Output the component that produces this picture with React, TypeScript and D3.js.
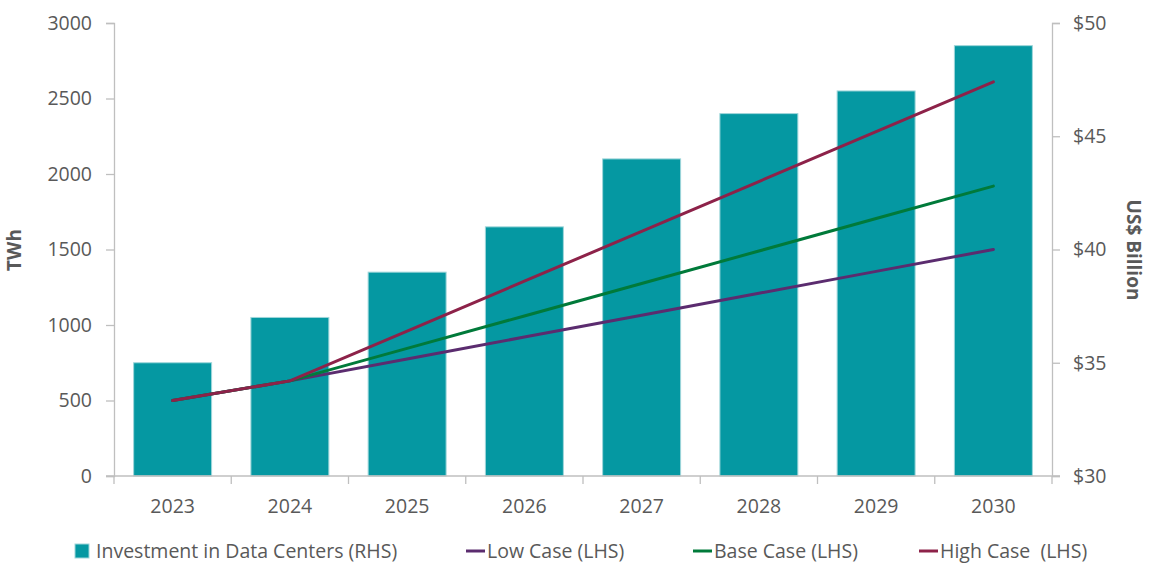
import { useEffect, useRef } from "react";
import * as d3 from "d3";

const years = ["2023", "2024", "2025", "2026", "2027", "2028", "2029", "2030"];
const investment = [35, 37, 39, 41, 44, 46, 47, 49];
const lowCase = [500, 630, 775, 920, 1065, 1210, 1355, 1500];
const baseCase = [500, 630, 845, 1060, 1275, 1490, 1705, 1920];
const highCase = [500, 630, 960, 1290, 1620, 1950, 2280, 2610];
const leftTicks = [0, 500, 1000, 1500, 2000, 2500, 3000];
const rightTicks = [30, 35, 40, 45, 50];

const lineSeries = [
  { name: "Low Case (LHS)", values: lowCase, color: "#5b2c6f" },
  { name: "Base Case (LHS)", values: baseCase, color: "#007a3a" },
  { name: "High Case  (LHS)", values: highCase, color: "#8d2249" },
];

const W = 1152;
const H = 577;
const font = "'Open Sans', 'Noto Sans', sans-serif";
const fontSize = "19.5px";
const textColor = "#595959";
const axisColor = "#bfbfbf";
const teal = "#0598a2";

const App = () => {
  const svgRef = useRef<SVGSVGElement | null>(null);

  useEffect(() => {
    if (!svgRef.current) return;
    const svg = d3.select(svgRef.current);
    svg.selectAll("*").remove();

    const margin = { left: 114, right: 100, top: 23, bottom: 101 };
    const plotBottom = H - margin.bottom;
    const plotRight = W - margin.right;

    const x = d3
      .scaleBand()
      .domain(years)
      .range([margin.left, plotRight])
      .paddingInner(0.335)
      .paddingOuter(0.1675);
    const yL = d3.scaleLinear().domain([0, 3000]).range([plotBottom, margin.top]);
    const yR = d3.scaleLinear().domain([30, 50]).range([plotBottom, margin.top]);

    // bars
    svg
      .append("g")
      .selectAll("rect")
      .data(years)
      .enter()
      .append("rect")
      .attr("x", (d) => x(d) as number)
      .attr("y", (_d, i) => yR(investment[i]))
      .attr("width", x.bandwidth())
      .attr("height", (_d, i) => plotBottom - yR(investment[i]))
      .attr("fill", teal)
      .attr("stroke", "#9fd6da")
      .attr("stroke-width", 1);

    // axes
    const leftAxis = d3
      .axisLeft(yL)
      .tickValues(leftTicks)
      .tickSize(8)
      .tickSizeOuter(8)
      .tickPadding(14)
      .tickFormat(d3.format("d"));
    const gl = svg
      .append("g")
      .attr("transform", `translate(${margin.left},0)`)
      .call(leftAxis);

    const rightAxis = d3
      .axisRight(yR)
      .tickValues(rightTicks)
      .tickSize(8)
      .tickSizeOuter(8)
      .tickPadding(13)
      .tickFormat((d) => `$${d}`);
    const gr = svg
      .append("g")
      .attr("transform", `translate(${plotRight},0)`)
      .call(rightAxis);

    const bottomAxis = d3.axisBottom(x).tickSize(0).tickPadding(23);
    const gb = svg
      .append("g")
      .attr("transform", `translate(0,${plotBottom})`)
      .call(bottomAxis);
    gb.select(".domain").remove();

    svg
      .append("line")
      .attr("x1", margin.left - 8)
      .attr("x2", plotRight + 8)
      .attr("y1", plotBottom)
      .attr("y2", plotBottom)
      .attr("stroke", axisColor)
      .attr("stroke-width", 1.3);

    const step = x.step();
    svg
      .append("g")
      .selectAll("line")
      .data(d3.range(years.length + 1))
      .enter()
      .append("line")
      .attr("x1", (i) => margin.left + i * step)
      .attr("x2", (i) => margin.left + i * step)
      .attr("y1", plotBottom)
      .attr("y2", plotBottom + 8)
      .attr("stroke", axisColor)
      .attr("stroke-width", 1.3);

    [gl, gr, gb].forEach((g) => {
      g.selectAll(".domain, .tick line")
        .attr("stroke", axisColor)
        .attr("stroke-width", 1.3);
      g.selectAll("text")
        .attr("fill", textColor)
        .attr("font-family", font)
        .attr("font-size", fontSize);
    });

    // lines
    lineSeries.forEach((s) => {
      const line = d3
        .line<number>()
        .x((_d, i) => (x(years[i]) as number) + x.bandwidth() / 2)
        .y((d) => yL(d));
      svg
        .append("path")
        .datum(s.values)
        .attr("d", line)
        .attr("fill", "none")
        .attr("stroke", s.color)
        .attr("stroke-width", 3)
        .attr("stroke-linecap", "round");
    });

    // axis titles
    svg
      .append("text")
      .attr("transform", `translate(21,250) rotate(-90)`)
      .attr("text-anchor", "middle")
      .attr("fill", textColor)
      .attr("font-family", font)
      .attr("font-size", "19px")
      .attr("font-weight", "bold")
      .text("TWh");
    svg
      .append("text")
      .attr("transform", `translate(1127,250) rotate(90)`)
      .attr("text-anchor", "middle")
      .attr("fill", textColor)
      .attr("font-family", font)
      .attr("font-size", "19px")
      .attr("font-weight", "bold")
      .text("US$ Billion");

    // legend
    const legendY = 551;
    const lg = svg.append("g");
    lg.append("rect")
      .attr("x", 75)
      .attr("y", legendY - 7)
      .attr("width", 14)
      .attr("height", 14)
      .attr("fill", teal)
      .attr("stroke", "#9fd6da");
    lg.append("text")
      .attr("x", 96)
      .attr("y", legendY)
      .attr("dy", "0.35em")
      .attr("fill", textColor)
      .attr("font-family", font)
      .attr("font-size", fontSize)
      .text("Investment in Data Centers (RHS)");

    const legendX = [466, 693, 919];
    lineSeries.forEach((s, i) => {
      lg.append("line")
        .attr("x1", legendX[i])
        .attr("x2", legendX[i] + 19)
        .attr("y1", legendY)
        .attr("y2", legendY)
        .attr("stroke", s.color)
        .attr("stroke-width", 3);
      lg.append("text")
        .attr("x", legendX[i] + 21)
        .attr("y", legendY)
        .attr("dy", "0.35em")
        .attr("fill", textColor)
        .attr("font-family", font)
        .attr("font-size", fontSize)
        .style("white-space", "pre")
        .text(s.name);
    });
  }, []);

  return (
    <svg
      ref={svgRef}
      width={W}
      height={H}
      style={{ position: "absolute", left: 0, top: 0, background: "#fff" }}
    />
  );
};

export default App;
